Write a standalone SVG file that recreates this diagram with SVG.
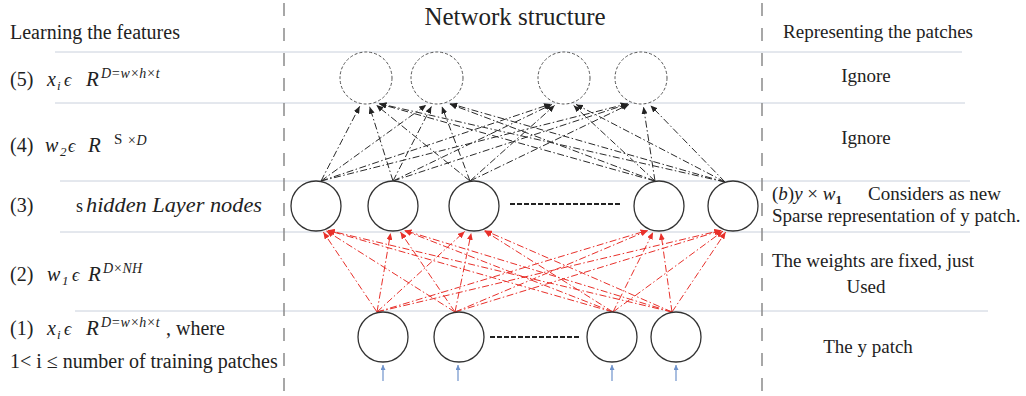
<svg xmlns="http://www.w3.org/2000/svg" width="1026" height="396" viewBox="0 0 1026 396">
<defs>
<marker id="ahk" markerUnits="userSpaceOnUse" markerWidth="8" markerHeight="6" refX="7" refY="3" orient="auto"><path d="M0,0 L7,3 L0,6 z" fill="#222"/></marker>
<marker id="ahr" markerUnits="userSpaceOnUse" markerWidth="8" markerHeight="6" refX="7" refY="3" orient="auto"><path d="M0,0 L7,3 L0,6 z" fill="#e8302a"/></marker>
<marker id="ahb" markerUnits="userSpaceOnUse" markerWidth="6" markerHeight="6" refX="5" refY="2.5" orient="auto"><path d="M0,0 L5,2.5 L0,5 z" fill="#6f93cc"/></marker>
</defs>
<style>
.t{font-family:"Liberation Serif","Times New Roman",serif;font-size:19px;fill:#222}
.l{font-family:"Liberation Serif","Times New Roman",serif;font-size:20px;fill:#222}
.m{font-family:"Liberation Serif","Times New Roman",serif;font-style:italic;fill:#222}
.grid{stroke:#c9d0dc;stroke-width:1}
.sep{stroke:#8a8a8a;stroke-width:1.5;stroke-dasharray:13 12}
.node{fill:#fff;stroke:#333;stroke-width:1.3}
.dnode{fill:#fff;stroke:#555;stroke-width:1;stroke-dasharray:3 2}
.bk{stroke:#2a2a2a;stroke-width:1;fill:none;stroke-dasharray:7 2.5 1.5 2.5;marker-end:url(#ahk)}
.rd{stroke:#e8302a;stroke-width:1;fill:none;stroke-dasharray:7 2.5 1.5 2.5;marker-end:url(#ahr)}
.bl{stroke:#6f93cc;stroke-width:1.2;marker-end:url(#ahb)}
.dots{stroke:#222;stroke-width:2;stroke-dasharray:5 2}
</style>
<rect width="1026" height="396" fill="#fff"/>
<g id="guides">
<line class="grid" x1="55" y1="52" x2="962" y2="52"/>
<line class="grid" x1="55" y1="103" x2="965" y2="103"/>
<line class="grid" x1="60" y1="181" x2="970" y2="181"/>
<line class="grid" x1="60" y1="232" x2="970" y2="232"/>
<line class="grid" x1="75" y1="311" x2="988" y2="311"/>
<line class="sep" x1="284" y1="3" x2="284" y2="396"/>
<line class="sep" x1="762" y1="3" x2="762" y2="396"/>
</g>
<g id="connectors">
<line class="bk" x1="321" y1="181" x2="359.7" y2="106.3"/>
<line class="bk" x1="393" y1="181" x2="369.6" y2="106.8"/>
<line class="bk" x1="470" y1="181" x2="376.3" y2="105.1"/>
<line class="bk" x1="655" y1="181" x2="379.2" y2="103.8"/>
<line class="bk" x1="725" y1="182" x2="379.5" y2="103.7"/>
<line class="bk" x1="321" y1="181" x2="426.2" y2="104.9"/>
<line class="bk" x1="393" y1="181" x2="431.4" y2="106.5"/>
<line class="bk" x1="470" y1="181" x2="441.9" y2="106.6"/>
<line class="bk" x1="655" y1="181" x2="449.8" y2="104"/>
<line class="bk" x1="725" y1="182" x2="450.3" y2="103.7"/>
<line class="bk" x1="321" y1="181" x2="551" y2="103.9"/>
<line class="bk" x1="393" y1="181" x2="551.9" y2="104.4"/>
<line class="bk" x1="470" y1="181" x2="554.6" y2="105.4"/>
<line class="bk" x1="655" y1="181" x2="573.6" y2="105.4"/>
<line class="bk" x1="725" y1="182" x2="576" y2="104.4"/>
<line class="bk" x1="321" y1="181" x2="627.6" y2="103.7"/>
<line class="bk" x1="393" y1="181" x2="628" y2="103.9"/>
<line class="bk" x1="470" y1="181" x2="629" y2="104.4"/>
<line class="bk" x1="655" y1="181" x2="643.5" y2="106.9"/>
<line class="bk" x1="725" y1="182" x2="650.5" y2="105.4"/>

<line class="rd" x1="377" y1="312" x2="323.3" y2="232"/>
<line class="rd" x1="455" y1="312" x2="326.4" y2="230.9"/>
<line class="rd" x1="613" y1="312" x2="327.6" y2="230.4"/>
<line class="rd" x1="672" y1="312" x2="327.7" y2="230.3"/>
<line class="rd" x1="377" y1="312" x2="390.6" y2="232.9"/>
<line class="rd" x1="455" y1="312" x2="400.4" y2="232"/>
<line class="rd" x1="613" y1="312" x2="404.3" y2="230.5"/>
<line class="rd" x1="672" y1="312" x2="404.5" y2="230.4"/>
<line class="rd" x1="377" y1="312" x2="464.7" y2="231.4"/>
<line class="rd" x1="455" y1="312" x2="471.2" y2="232.9"/>
<line class="rd" x1="613" y1="312" x2="484.4" y2="230.9"/>
<line class="rd" x1="672" y1="312" x2="485.1" y2="230.6"/>
<line class="rd" x1="377" y1="312" x2="647.5" y2="230.4"/>
<line class="rd" x1="455" y1="312" x2="647.8" y2="230.6"/>
<line class="rd" x1="613" y1="312" x2="653" y2="232.3"/>
<line class="rd" x1="672" y1="312" x2="660.9" y2="232.9"/>
<line class="rd" x1="377" y1="312" x2="721.3" y2="230.3"/>
<line class="rd" x1="455" y1="312" x2="721.5" y2="230.4"/>
<line class="rd" x1="613" y1="312" x2="723" y2="231.1"/>
<line class="rd" x1="672" y1="312" x2="725.7" y2="232"/>

<line class="bl" x1="383" y1="381" x2="383" y2="365"/>
<line class="bl" x1="458" y1="381" x2="458" y2="365"/>
<line class="bl" x1="612" y1="381" x2="612" y2="365"/>
<line class="bl" x1="676" y1="381" x2="676" y2="365"/>
</g>
<g id="top-layer">
<g id="o1"><circle class="dnode" cx="366" cy="78" r="26"/></g>
<g id="o2"><circle class="dnode" cx="437" cy="78" r="26"/></g>
<g id="o3"><circle class="dnode" cx="564" cy="78" r="26"/></g>
<g id="o4"><circle class="dnode" cx="641" cy="78" r="26"/></g>
</g>
<g id="hidden-layer">
<g id="h1"><circle class="node" cx="316" cy="206" r="25"/></g>
<g id="h2"><circle class="node" cx="393" cy="206" r="25"/></g>
<g id="h3"><circle class="node" cx="474" cy="206" r="25"/></g>
<g id="h-ellipsis"><line class="dots" x1="510" y1="204" x2="620" y2="204"/></g>
<g id="h4"><circle class="node" cx="659" cy="206" r="25"/></g>
<g id="h5"><circle class="node" cx="733" cy="206" r="25"/></g>
</g>
<g id="input-layer">
<g id="i1"><circle class="node" cx="383" cy="337" r="25"/></g>
<g id="i2"><circle class="node" cx="459" cy="337" r="25"/></g>
<g id="i-ellipsis"><line class="dots" x1="490" y1="337" x2="580" y2="337"/></g>
<g id="i3"><circle class="node" cx="612" cy="337" r="25"/></g>
<g id="i4"><circle class="node" cx="676" cy="337" r="25"/></g>
</g>
<g id="title"><text class="t" x="515" y="25" text-anchor="middle" style="font-size:25px">Network structure</text></g>
<g id="left-labels">
<text class="l" x="10" y="39">Learning the features</text>
<text class="l" x="10" y="86">(5)</text>
<text class="m" font-size="20" x="47" y="86">x</text><text class="m" font-size="13" x="57" y="90">i</text>
<text class="m" font-size="18" x="64" y="86">ϵ</text>
<text class="m" font-size="21" x="86" y="86">R</text>
<text class="m" font-size="14" x="101" y="78">D=w×h×t</text>

<text class="l" x="10" y="152">(4)</text>
<text class="m" font-size="20" x="45" y="152">w</text><text class="m" font-size="13" x="60" y="156">2</text>
<text class="m" font-size="18" x="68" y="152">ϵ</text>
<text class="m" font-size="21" x="88" y="152">R</text>
<text class="l" style="font-size:15px" x="114" y="144">S</text>
<text class="m" font-size="14" x="127" y="145">×D</text>

<text class="l" x="10" y="212">(3)</text>
<text class="l" style="font-size:18px" x="76" y="212">s</text>
<text class="m" font-size="21" x="86" y="212" textLength="176" lengthAdjust="spacingAndGlyphs">hidden Layer nodes</text>

<text class="l" x="10" y="281">(2)</text>
<text class="m" font-size="20" x="47" y="281">w</text><text class="m" font-size="13" x="62" y="285">1</text>
<text class="m" font-size="18" x="72" y="281">ϵ</text>
<text class="m" font-size="21" x="88" y="281">R</text>
<text class="m" font-size="14" x="103" y="273">D×NH</text>

<text class="l" x="10" y="335">(1)</text>
<text class="m" font-size="20" x="47" y="335">x</text><text class="m" font-size="13" x="57" y="339">i</text>
<text class="m" font-size="18" x="64" y="335">ϵ</text>
<text class="m" font-size="21" x="86" y="335">R</text>
<text class="m" font-size="14" x="101" y="327">D=w×h×t</text>
<text class="l" x="166" y="335">, where</text>

<text class="l" x="10" y="368">1&lt; i ≤ number of training patches</text>
</g>
<g id="right-labels">
<text class="t" x="878" y="38" text-anchor="middle">Representing the patches</text>
<text class="t" x="866" y="82" text-anchor="middle">Ignore</text>
<text class="t" x="866" y="144" text-anchor="middle">Ignore</text>
<text class="t" x="772" y="200">(<tspan class="m">b</tspan>)<tspan class="m">y</tspan>  × <tspan class="m">w</tspan><tspan style="font-size:13px;font-weight:bold" dy="4">1</tspan><tspan dy="-4" x="868">Considers as new</tspan></text>
<text class="t" x="772" y="222">Sparse representation of y patch.</text>
<text class="t" x="772" y="267">The weights are fixed, just</text>
<text class="t" x="866" y="293" text-anchor="middle">Used</text>
<text class="t" x="868" y="353" text-anchor="middle">The y patch</text>
</g>
</svg>
